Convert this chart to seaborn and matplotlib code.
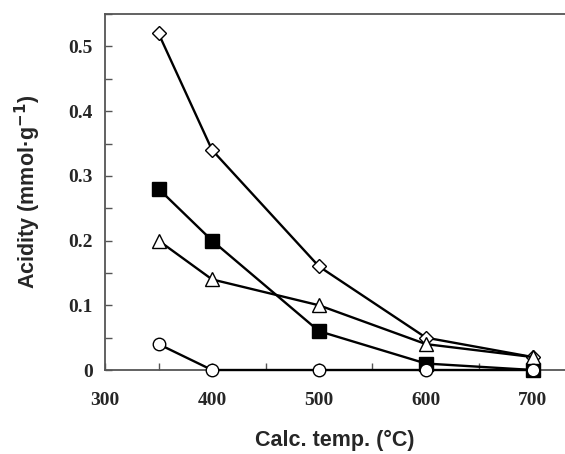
import matplotlib
matplotlib.use("Agg")
import matplotlib.pyplot as plt
import seaborn as sns
from matplotlib.ticker import MultipleLocator, FixedLocator

# values
temps = [350, 400, 500, 600, 700]
diamond_open = [0.52, 0.34, 0.16, 0.05, 0.02]
square_filled = [0.28, 0.20, 0.06, 0.01, 0.00]
triangle_open = [0.20, 0.14, 0.10, 0.04, 0.02]
circle_open = [0.04, 0.00, 0.00, 0.00, 0.00]

sns.set_style("ticks")

fig = plt.figure(figsize=(5.65, 4.54), dpi=100)
ax = fig.add_axes([0.186, 0.185, 0.814, 0.784])

series = [
    (diamond_open, "D", "white", 7),
    (square_filled, "s", "black", 9.5),
    (triangle_open, "^", "white", 9.5),
    (circle_open, "o", "white", 9),
]
for i, (vals, mk, fc, ms) in enumerate(series):
    sns.lineplot(x=temps, y=vals, ax=ax, color="black", linewidth=1.7,
                 marker=mk, markersize=ms, markerfacecolor=fc,
                 markeredgecolor="black", markeredgewidth=1.0,
                 clip_on=False, zorder=5 + i)

ax.set_xlim(300, 730)
ax.set_ylim(0, 0.55)
ax.xaxis.set_major_locator(FixedLocator([300, 400, 500, 600, 700]))
ax.xaxis.set_minor_locator(FixedLocator([350, 450, 550, 650]))
ax.yaxis.set_major_locator(FixedLocator([0, 0.1, 0.2, 0.3, 0.4, 0.5]))
ax.yaxis.set_minor_locator(MultipleLocator(0.05))
ax.set_yticklabels(["0", "0.1", "0.2", "0.3", "0.4", "0.5"])

for sp in ["left", "bottom", "top"]:
    ax.spines[sp].set_color("#555555")
    ax.spines[sp].set_linewidth(1.3)
    ax.spines[sp].set_zorder(1)
ax.spines["right"].set_visible(False)

ax.tick_params(which="both", direction="in", color="#555555", width=1.0,
               top=False, right=False)
ax.tick_params(which="major", length=5)
ax.tick_params(which="minor", length=5)
ax.tick_params(axis="x", pad=16)
ax.tick_params(axis="y", pad=9)

for lab in ax.get_xticklabels() + ax.get_yticklabels():
    lab.set_fontfamily("Liberation Serif")
    lab.set_fontweight("bold")
    lab.set_fontsize(14)

ax.set_xlabel("Calc. temp. (°C)", fontfamily="Liberation Sans",
              fontweight="bold", fontsize=15.5, labelpad=15)
ax.set_ylabel("Acidity (mmol·g$^{\\mathbf{-1}}$)", fontfamily="Liberation Sans",
              fontweight="bold", fontsize=15.5, labelpad=18)

fig.savefig("out.png", dpi=100)
